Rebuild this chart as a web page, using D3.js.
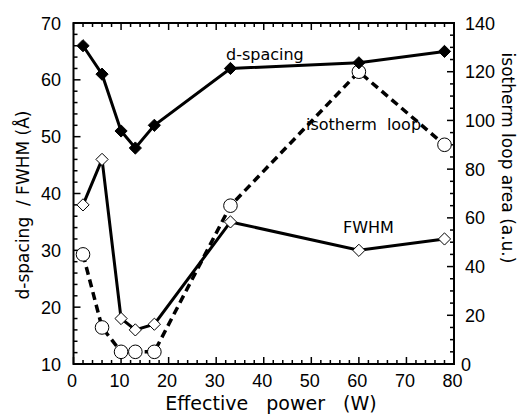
<!DOCTYPE html>
<html><head><meta charset="utf-8">
<script src="https://cdn.jsdelivr.net/npm/d3@7"></script>
<style>body{margin:0;background:#fff}svg{display:block}text{font-family:"DejaVu Sans",sans-serif;fill:#000}.tk{font-family:"Liberation Sans",Arial,sans-serif}</style>
</head><body>
<svg id="c" width="518" height="416"></svg>
<script>
const power = [2, 6, 10, 13, 17, 33, 60, 78];
const dSpacing = [66, 61, 51, 48, 52, 62, 63, 65];
const fwhm = [38, 46, 18, 16, 17, 35, 30, 32];
const isothermLoop = [45, 15, 5, 5, 5, 65, 120, 90];
const xTicks = [0, 10, 20, 30, 40, 50, 60, 70, 80];
const yLeftTicks = [10, 20, 30, 40, 50, 60, 70];
const yRightTicks = [0, 20, 40, 60, 80, 100, 120, 140];

const svg = d3.select("#c");
const L = 73.5, R = 454, T = 23, B = 364;
const x = d3.scaleLinear().domain([0, 80]).range([L, R]);
const yL = d3.scaleLinear().domain([10, 70]).range([B, T]);
const yR = d3.scaleLinear().domain([0, 140]).range([B, T]);

// frame
svg.append("rect").attr("x", L).attr("y", T).attr("width", R - L).attr("height", B - T)
  .attr("fill", "none").attr("stroke", "#000").attr("stroke-width", 2);

// ticks
const g = svg.append("g").attr("stroke", "#000").attr("stroke-width", 1.5);
d3.range(0, 81, 2).forEach(v => {
  const len = v % 10 === 0 ? 7 : 4;
  g.append("line").attr("x1", x(v)).attr("x2", x(v)).attr("y1", B).attr("y2", B - len);
  g.append("line").attr("x1", x(v)).attr("x2", x(v)).attr("y1", T).attr("y2", T + len);
});
d3.range(10, 71, 2).forEach(v => {
  const len = v % 10 === 0 ? 7 : 4;
  g.append("line").attr("x1", L).attr("x2", L + len).attr("y1", yL(v)).attr("y2", yL(v));
});
d3.range(0, 141, 5).forEach(v => {
  const len = v % 20 === 0 ? 7 : 4;
  g.append("line").attr("x1", R).attr("x2", R - len).attr("y1", yR(v)).attr("y2", yR(v));
});

// tick labels
svg.append("g").attr("class", "tk").selectAll("text").data(xTicks).join("text")
  .attr("class", "tk").attr("x", d => x(d) - 1.5).attr("y", 387).attr("text-anchor", "middle")
  .attr("font-size", 18).text(d => d);
svg.append("g").selectAll("text").data(yLeftTicks).join("text")
  .attr("class", "tk").attr("x", 61).attr("y", d => yL(d) + 6.5).attr("text-anchor", "end")
  .attr("font-size", 18).text(d => d);
svg.append("g").selectAll("text").data(yRightTicks).join("text")
  .attr("class", "tk").attr("x", d => d === 0 ? 461 : 465).attr("y", d => yR(d) + 6.5)
  .attr("text-anchor", "start").attr("font-size", 18).text(d => d);

// axis titles
svg.append("text").attr("x", 271).attr("y", 410).attr("text-anchor", "middle")
  .attr("font-size", 19).style("white-space", "pre")
  .text("Effective   power   (W)");
svg.append("text").attr("transform", "translate(29,205) rotate(-90)").attr("text-anchor", "middle")
  .attr("font-size", 17).style("white-space", "pre").text("d-spacing  / FWHM (Å)");
svg.append("text").attr("transform", "translate(502,158) rotate(90)").attr("text-anchor", "middle")
  .attr("font-size", 17).style("white-space", "pre").text("isotherm loop area (a.u.)");

// series
const lineL = d3.line().x((d, i) => x(power[i])).y(d => yL(d));
const lineR = d3.line().x((d, i) => x(power[i])).y(d => yR(d));
const diamond = d3.symbol().type(d3.symbolDiamond2);

// FWHM
svg.append("path").attr("d", lineL(fwhm)).attr("fill", "none").attr("stroke", "#000").attr("stroke-width", 3);
svg.append("g").selectAll("path").data(fwhm).join("path")
  .attr("transform", (d, i) => `translate(${x(power[i])},${yL(d)})`)
  .attr("d", diamond.size(95)).attr("fill", "#fff").attr("stroke", "#000").attr("stroke-width", 1);

// isotherm loop
svg.append("path").attr("d", lineR(isothermLoop)).attr("fill", "none").attr("stroke", "#000")
  .attr("stroke-width", 3.5).attr("stroke-dasharray", "8,5");
svg.append("g").selectAll("circle").data(isothermLoop).join("circle")
  .attr("cx", (d, i) => x(power[i])).attr("cy", d => yR(d)).attr("r", 6.8)
  .attr("fill", "#fff").attr("stroke", "#000").attr("stroke-width", 1);

// d-spacing
svg.append("path").attr("d", lineL(dSpacing)).attr("fill", "none").attr("stroke", "#000").attr("stroke-width", 3);
svg.append("g").selectAll("path").data(dSpacing).join("path")
  .attr("transform", (d, i) => `translate(${x(power[i])},${yL(d)})`)
  .attr("d", diamond.size(95)).attr("fill", "#000").attr("stroke", "#000").attr("stroke-width", 1);

// annotations
svg.append("text").attr("x", 226).attr("y", 60).attr("font-size", 16).text("d-spacing");
svg.append("text").attr("x", 306).attr("y", 130).attr("font-size", 16).style("white-space", "pre").text("isotherm  loop");
svg.append("text").attr("x", 343).attr("y", 233).attr("font-size", 16).text("FWHM");
</script>
</body></html>
